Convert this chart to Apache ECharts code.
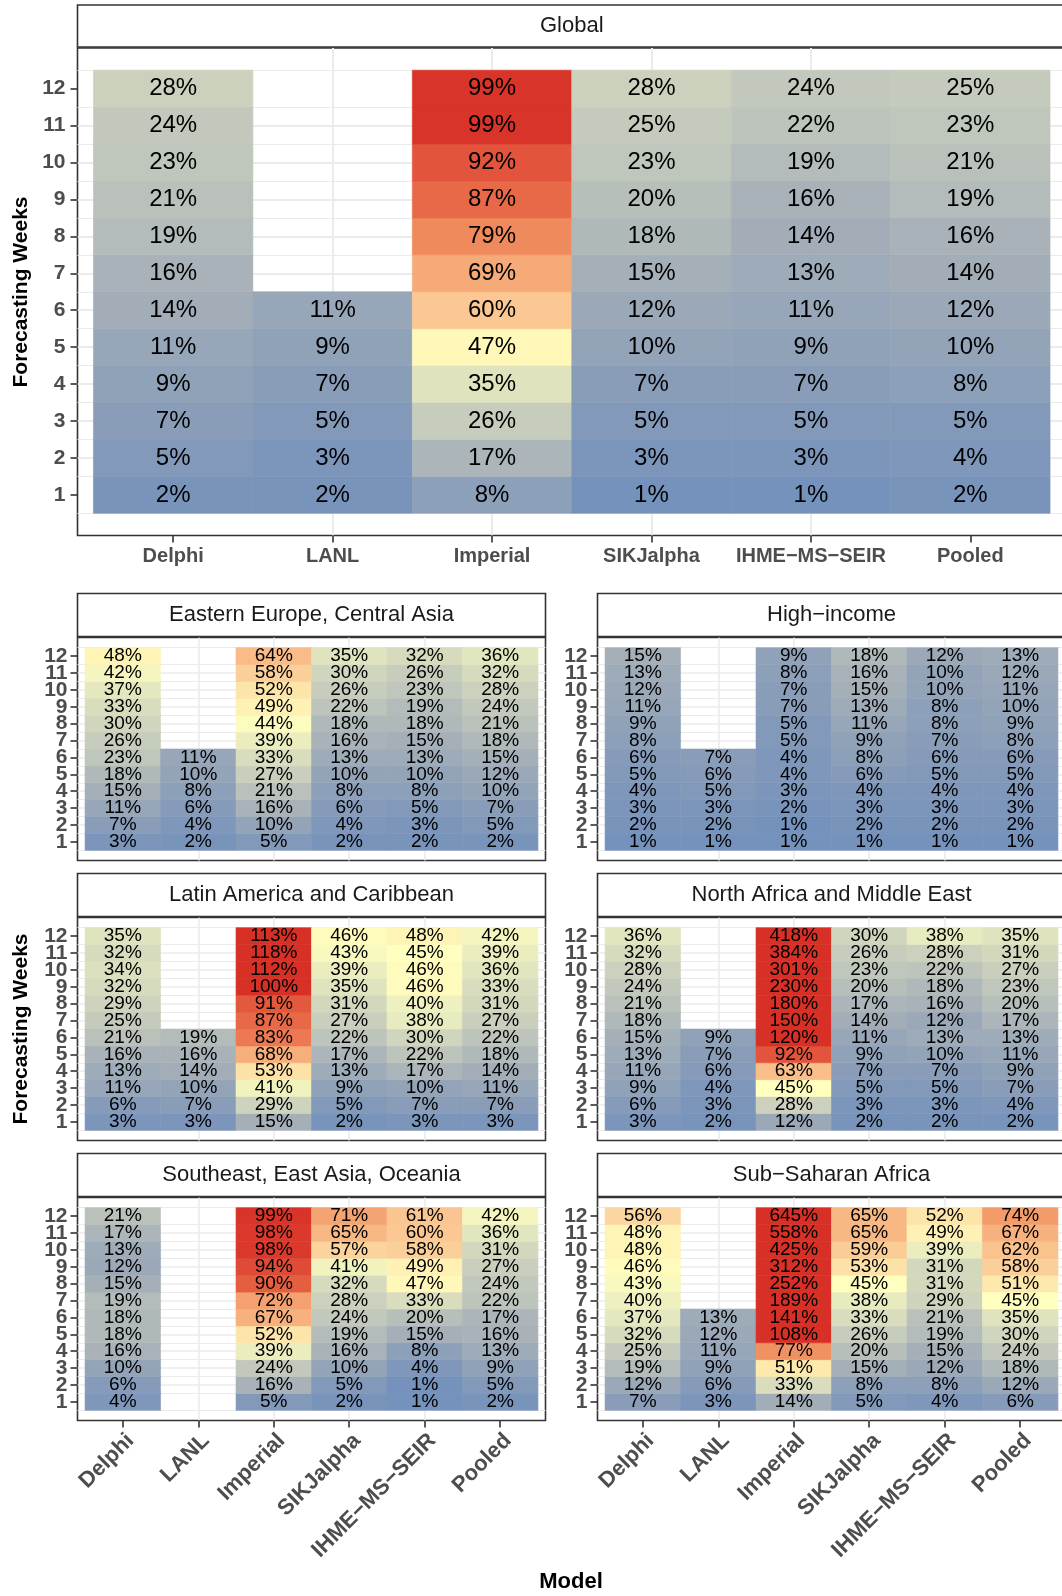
<!DOCTYPE html>
<html>
<head>
<meta charset="utf-8">
<title>Forecasting error by model and region</title>
<script src="https://cdn.jsdelivr.net/npm/echarts@6/dist/echarts.min.js"></script>
<style>
html, body { margin: 0; padding: 0; background: #fff; overflow: hidden; }
#chart { width: 1068px; height: 1596px; }
</style>
</head>
<body>
<div id="chart"></div>
<script>
const models = ['Delphi', 'LANL', 'Imperial', 'SIKJalpha', 'IHME−MS−SEIR', 'Pooled']
const weeks = [1, 2, 3, 4, 5, 6, 7, 8, 9, 10, 11, 12]
const panelTitles = [
  'Global',
  'Eastern Europe, Central Asia',
  'High−income',
  'Latin America and Caribbean',
  'North Africa and Middle East',
  'Southeast, East Asia, Oceania',
  'Sub−Saharan Africa'
]

// error in %, one row per model, weeks 1..12 (null = no forecast)
const globalPct = [
  [2, 5, 7, 9, 11, 14, 16, 19, 21, 23, 24, 28],
  [2, 3, 5, 7, 9, 11, null, null, null, null, null, null],
  [8, 17, 26, 35, 47, 60, 69, 79, 87, 92, 99, 99],
  [1, 3, 5, 7, 10, 12, 15, 18, 20, 23, 25, 28],
  [1, 3, 5, 7, 9, 11, 13, 14, 16, 19, 22, 24],
  [2, 4, 5, 8, 10, 12, 14, 16, 19, 21, 23, 25]
]
const easternEuropePct = [
  [3, 7, 11, 15, 18, 23, 26, 30, 33, 37, 42, 48],
  [2, 4, 6, 8, 10, 11, null, null, null, null, null, null],
  [5, 10, 16, 21, 27, 33, 39, 44, 49, 52, 58, 64],
  [2, 4, 6, 8, 10, 13, 16, 18, 22, 26, 30, 35],
  [2, 3, 5, 8, 10, 13, 15, 18, 19, 23, 26, 32],
  [2, 5, 7, 10, 12, 15, 18, 21, 24, 28, 32, 36]
]
const highIncomePct = [
  [1, 2, 3, 4, 5, 6, 8, 9, 11, 12, 13, 15],
  [1, 2, 3, 5, 6, 7, null, null, null, null, null, null],
  [1, 1, 2, 3, 4, 4, 5, 5, 7, 7, 8, 9],
  [1, 2, 3, 4, 6, 8, 9, 11, 13, 15, 16, 18],
  [1, 2, 3, 4, 5, 6, 7, 8, 8, 10, 10, 12],
  [1, 2, 3, 4, 5, 6, 8, 9, 10, 11, 12, 13]
]
const latinAmericaPct = [
  [3, 6, 11, 13, 16, 21, 25, 29, 32, 34, 32, 35],
  [3, 7, 10, 14, 16, 19, null, null, null, null, null, null],
  [15, 29, 41, 53, 68, 83, 87, 91, 100, 112, 118, 113],
  [2, 5, 9, 13, 17, 22, 27, 31, 35, 39, 43, 46],
  [3, 7, 10, 17, 22, 30, 38, 40, 46, 46, 45, 48],
  [3, 7, 11, 14, 18, 22, 27, 31, 33, 36, 39, 42]
]
const northAfricaPct = [
  [3, 6, 9, 11, 13, 15, 18, 21, 24, 28, 32, 36],
  [2, 3, 4, 6, 7, 9, null, null, null, null, null, null],
  [12, 28, 45, 63, 92, 120, 150, 180, 230, 301, 384, 418],
  [2, 3, 5, 7, 9, 11, 14, 17, 20, 23, 26, 30],
  [2, 3, 5, 7, 10, 13, 12, 16, 18, 22, 28, 38],
  [2, 4, 7, 9, 11, 13, 17, 20, 23, 27, 31, 35]
]
const southeastAsiaPct = [
  [4, 6, 10, 16, 18, 18, 19, 15, 12, 13, 17, 21],
  [null, null, null, null, null, null, null, null, null, null, null, null],
  [5, 16, 24, 39, 52, 67, 72, 90, 94, 98, 98, 99],
  [2, 5, 10, 16, 19, 24, 28, 32, 41, 57, 65, 71],
  [1, 1, 4, 8, 15, 20, 33, 47, 49, 58, 60, 61],
  [2, 5, 9, 13, 16, 17, 22, 24, 27, 31, 36, 42]
]
const subSaharanPct = [
  [7, 12, 19, 25, 32, 37, 40, 43, 46, 48, 48, 56],
  [3, 6, 9, 11, 12, 13, null, null, null, null, null, null],
  [14, 33, 51, 77, 108, 141, 189, 252, 312, 425, 558, 645],
  [5, 8, 15, 20, 26, 33, 38, 45, 53, 59, 65, 65],
  [4, 8, 12, 15, 19, 21, 29, 31, 31, 39, 49, 52],
  [6, 12, 18, 24, 30, 35, 45, 51, 58, 62, 67, 74]
]

const panelData = [globalPct, easternEuropePct, highIncomePct, latinAmericaPct, northAfricaPct, southeastAsiaPct, subSaharanPct]

// panel boxes [left, top, width, height] in px
const boxes = [
  [77.5, 48, 988.5, 487.5],
  [77.5, 637.5, 468, 223],
  [597.5, 637.5, 468, 223],
  [77.5, 917.5, 468, 223],
  [597.5, 917.5, 468, 223],
  [77.5, 1197.5, 468, 223],
  [597.5, 1197.5, 468, 223]
]

// fill colour every 5% from 0 to 100 (values above 100 are squished)
const fillStops = ['#7290bc', '#8299ba', '#94a4b8', '#a5afb8', '#b7bfba', '#c5cbbc', '#d0d5bd',
  '#dfe3be', '#eef0bf', '#ffffbf', '#feedb0', '#fcdaa2', '#fbc893', '#f8b884', '#f5a775',
  '#f29866', '#ee865b', '#ea714e', '#e45e40', '#de4633', '#d73027']

const fontFamily = '"Liberation Sans", Arial, Helvetica, sans-serif'
const border = '#333333'
const gridColor = '#ebebeb'

function toTiles(rows) {
  const out = []
  rows.forEach((vals, m) => {
    vals.forEach((v, w) => {
      if (v === null) return
      out.push([m + 1, weeks[w], Math.min(v, 100), v])
    })
  })
  return out
}

function tileRenderer(fontSize) {
  return function(params, api) {
    const x = api.value(0)
    const y = api.value(1)
    const p0 = api.coord([x - 0.5, y + 0.5])
    const p1 = api.coord([x + 0.5, y - 0.5])
    const color = api.visual('color')
    return {
      type: 'group',
      children: [
        {
          type: 'rect',
          shape: { x: p0[0], y: p0[1], width: p1[0] - p0[0], height: p1[1] - p0[1] },
          style: { fill: color, stroke: color, lineWidth: 0.6 },
          z2: 1
        },
        {
          type: 'text',
          x: (p0[0] + p1[0]) / 2,
          y: (p0[1] + p1[1]) / 2,
          style: {
            text: api.value(3) + '%',
            fill: '#000',
            fontSize: fontSize,
            fontFamily: fontFamily,
            align: 'center',
            verticalAlign: 'middle'
          },
          z2: 10
        }
      ]
    }
  }
}

function weekLabel(isGlobal, values) {
  return {
    customValues: values,
    formatter: (v) => String(Math.round(v)),
    showMinLabel: true,
    showMaxLabel: true,
    hideOverlap: false,
    margin: isGlobal ? 12 : 10,
    color: '#4d4d4d',
    fontWeight: 'bold',
    fontFamily: fontFamily,
    fontSize: isGlobal ? 21 : 21
  }
}

const grids = []
const xAxes = []
const yAxes = []
const extraYAxes = []
const series = []
const graphics = []

boxes.forEach((b, i) => {
  const isGlobal = i === 0
  const isBottom = i >= 5
  grids.push({
    left: b[0], top: b[1], width: b[2], height: b[3],
    show: true, backgroundColor: '#fff', borderColor: border, borderWidth: 1.6
  })
  xAxes.push({
    gridIndex: i,
    type: 'value',
    min: 0.4,
    max: 6.6,
    minInterval: 1,
    maxInterval: 1,
    axisLine: { show: false, onZero: false },
    axisTick: {
      show: isGlobal || isBottom,
      customValues: [1, 2, 3, 4, 5, 6],
      length: 7,
      lineStyle: { color: border, width: 1.6 }
    },
    axisLabel: {
      show: isGlobal || isBottom,
      customValues: [1, 2, 3, 4, 5, 6],
      formatter: (v) => models[Math.round(v) - 1] || '',
      showMinLabel: true,
      showMaxLabel: true,
      hideOverlap: false,
      rotate: isBottom ? 45 : 0,
      align: isBottom ? 'right' : 'center',
      verticalAlign: 'top',
      margin: isGlobal ? 11 : 9,
      color: '#4d4d4d',
      fontWeight: 'bold',
      fontFamily: fontFamily,
      fontSize: isGlobal ? 20 : 22
    },
    splitLine: {
      show: true, showMinLine: false, showMaxLine: false,
      lineStyle: { color: gridColor, width: isGlobal ? 2 : 1.6 }
    },
    minorSplitLine: { show: false }
  })
  // regional week labels are packed too tightly for one axis:
  // even weeks go on the main axis, odd weeks on a label-only twin
  const mainWeeks = isGlobal ? weeks : weeks.filter((w) => w % 2 === 0)
  yAxes.push({
    gridIndex: i,
    type: 'value',
    position: 'left',
    min: -0.1,
    max: 13.1,
    minInterval: 1,
    maxInterval: 1,
    axisLine: { show: false, onZero: false },
    axisTick: {
      show: true,
      customValues: weeks,
      length: 7,
      lineStyle: { color: border, width: 1.6 }
    },
    axisLabel: weekLabel(isGlobal, mainWeeks),
    splitLine: {
      show: true, showMinLine: false, showMaxLine: false,
      lineStyle: { color: gridColor, width: isGlobal ? 2 : 1.6 }
    },
    minorTick: { show: false, splitNumber: 2 },
    minorSplitLine: { show: true, lineStyle: { color: gridColor, width: 1 } }
  })
  if (!isGlobal) {
    extraYAxes.push({
      gridIndex: i,
      type: 'value',
      position: 'left',
      offset: 0,
      min: -0.1,
      max: 13.1,
      minInterval: 1,
      maxInterval: 1,
      axisLine: { show: false, onZero: false },
      axisTick: { show: false },
      axisLabel: weekLabel(false, weeks.filter((w) => w % 2 === 1)),
      splitLine: { show: false },
      minorSplitLine: { show: false }
    })
  }
  series.push({
    type: 'custom',
    name: panelTitles[i],
    coordinateSystem: 'cartesian2d',
    xAxisIndex: i,
    yAxisIndex: i,
    encode: { x: 0, y: 1 },
    silent: true,
    renderItem: tileRenderer(isGlobal ? 24 : 19),
    data: toTiles(panelData[i])
  })

  // facet strip
  const stripH = isGlobal ? 42 : 43
  graphics.push({
    type: 'rect',
    shape: { x: b[0], y: b[1] - stripH - 1, width: b[2], height: stripH },
    style: { fill: '#fff', stroke: border, lineWidth: 1.6 },
    z: 5
  })
  graphics.push({
    type: 'text',
    x: b[0] + b[2] / 2,
    y: b[1] - stripH / 2 - 1,
    style: {
      text: panelTitles[i],
      fill: '#1a1a1a',
      fontSize: 22,
      fontFamily: fontFamily,
      align: 'center',
      verticalAlign: 'middle',
      textAlign: 'center',
      textVerticalAlign: 'middle'
    },
    z: 6
  })
})

const titleStyle = {
  fill: '#000',
  fontSize: 21,
  fontWeight: 'bold',
  fontFamily: fontFamily,
  align: 'center',
  verticalAlign: 'middle',
  textAlign: 'center',
  textVerticalAlign: 'middle'
}
graphics.push({ type: 'text', x: 21, y: 292, rotation: Math.PI / 2, style: Object.assign({ text: 'Forecasting Weeks' }, titleStyle), z: 6 })
graphics.push({ type: 'text', x: 21, y: 1029, rotation: Math.PI / 2, style: Object.assign({ text: 'Forecasting Weeks' }, titleStyle), z: 6 })
graphics.push({ type: 'text', x: 571, y: 1582, style: Object.assign({ text: 'Model' }, titleStyle, { fontSize: 22 }), z: 6 })

const option = {
  animation: false,
  backgroundColor: '#fff',
  visualMap: {
    type: 'continuous',
    show: false,
    min: 0,
    max: 100,
    dimension: 2,
    seriesIndex: [0, 1, 2, 3, 4, 5, 6],
    inRange: { color: fillStops }
  },
  grid: grids,
  xAxis: xAxes,
  yAxis: yAxes.concat(extraYAxes),
  series: series,
  graphic: { elements: graphics }
}

const myChart = echarts.init(document.getElementById('chart'))
myChart.setOption(option)
</script>
</body>
</html>
